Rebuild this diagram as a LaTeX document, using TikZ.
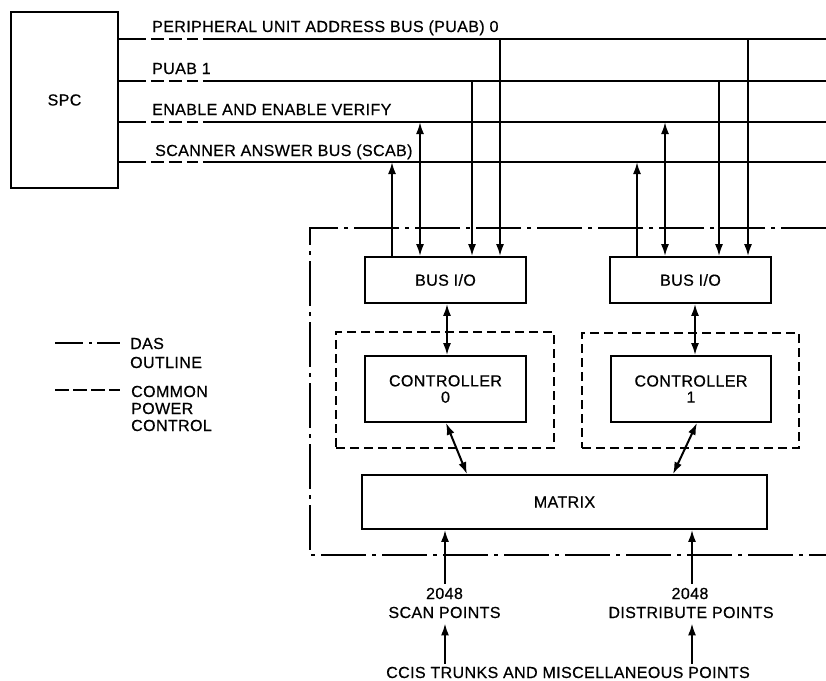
\documentclass[tikz,border=0pt]{standalone}
\usepackage{fontspec}
\setmainfont[FakeBold=0.6,LetterSpace=2.5]{Liberation Sans}
\usetikzlibrary{arrows.meta,calc}
\begin{document}
\begin{tikzpicture}[x=1pt,y=-1pt,
  every node/.style={font=\fontsize{16}{19}\selectfont},
  box/.style={draw, line width=1.7pt, inner sep=0pt, align=center},
  pbox/.style={draw, line width=1.3pt, dash pattern=on 9pt off 5pt, inner sep=0pt},
  bus/.style={line width=2pt},
  conn/.style={line width=2pt, -{Latex[length=12pt,width=8pt]}},
  dconn/.style={line width=2pt, {Latex[length=12pt,width=8pt]}-{Latex[length=12pt,width=8pt]}},
  lbl/.style={anchor=base west, inner sep=0pt},
  ctr/.style={anchor=base, inner sep=0pt},
  dasline/.style={line width=1.3pt, dash pattern=on 45pt off 6pt on 4pt off 6pt},
]
\useasboundingbox (0,0) rectangle (826,680);

% SPC
\node[box, minimum width=107pt, minimum height=176pt] (spc) at (64.5,100) {SPC};

% buses
\foreach \n/\y in {0/39,1/81,2/122,3/162} {
  \coordinate (e\n) at (826,\y);
  \draw[bus] (spc.east |- e\n) -- ++(27,0);
  \draw[bus, dash pattern=on 13pt off 5pt] ($(spc.east |- e\n)+(32,0)$) -- ++(47,0);
  \draw[bus] ($(spc.east |- e\n)+(84,0)$) -- (e\n);
}
\node[lbl] (l0) at (152,32) {PERIPHERAL UNIT ADDRESS BUS (PUAB) 0};
\node[lbl] (l1) at (152,74) {PUAB 1};
\node[lbl] (l2) at (152,115) {ENABLE AND ENABLE VERIFY};
\node[lbl] (l3) at (155,156) {SCANNER ANSWER BUS (SCAB)};

% DAS outline
\coordinate (o1) at (826,228);
\coordinate (o2) at (310,228);
\coordinate (o3) at (310,555);
\coordinate (o4) at (826,555);
\draw[dasline] (o1) -- (o2) -- (o3) -- (o4);

% common power control boxes
\node[pbox, minimum width=218pt, minimum height=116pt] (cpL) at (445,390) {};
\node[pbox, minimum width=217pt, minimum height=115pt] (cpR) at (690.5,390.5) {};

% blocks
\node[box, minimum width=161pt, minimum height=46pt] (bioL) at (445.5,280) {BUS I/O};
\node[box, minimum width=161pt, minimum height=46pt] (bioR) at (690.5,280) {BUS I/O};
\node[box, minimum width=161pt, minimum height=66pt] (ctlL) at (445.5,389) {\raisebox{-3pt}{\shortstack{CONTROLLER\\[2pt]0}}};
\node[box, minimum width=160pt, minimum height=66pt] (ctlR) at (691,389) {\raisebox{-3pt}{\shortstack{CONTROLLER\\[2pt]1}}};
\node[box, minimum width=405pt, minimum height=54pt] (matrix) at (564.5,502) {MATRIX};

% bus taps
\coordinate (t1) at (392,162);
\coordinate (t2) at (420,122);
\coordinate (t3) at (472,81);
\coordinate (t4) at (500,39);
\coordinate (t5) at (637,162);
\coordinate (t6) at (665,122);
\coordinate (t7) at (719,81);
\coordinate (t8) at (748,39);
\draw[conn] (bioL.north -| t1) -- (t1);
\draw[dconn] (bioL.north -| t2) -- (t2);
\draw[conn] (t3) -- (bioL.north -| t3);
\draw[conn] (t4) -- (bioL.north -| t4);
\draw[conn] (bioR.north -| t5) -- (t5);
\draw[dconn] (bioR.north -| t6) -- (t6);
\draw[conn] (t7) -- (bioR.north -| t7);
\draw[conn] (t8) -- (bioR.north -| t8);

% bus i/o <-> controller
\draw[dconn] ([xshift=1.5pt]bioL.south) -- ([xshift=1.5pt]bioL.south |- ctlL.north);
\draw[dconn] ([xshift=4.5pt]bioR.south) -- ([xshift=4.5pt]bioR.south |- ctlR.north);

% controller <-> matrix
\draw[dconn] ([xshift=0.5pt]ctlL.south) -- ([xshift=-97.5pt]matrix.north);
\draw[dconn] ([xshift=6pt]ctlR.south) -- ([xshift=108.5pt]matrix.north);

% legend
\coordinate (lg1a) at (55,343);
\coordinate (lg1b) at (120,343);
\coordinate (lg2a) at (55,390);
\coordinate (lg2b) at (120,390);
\draw[line width=1.3pt, dash pattern=on 28pt off 6pt on 3pt off 5pt] (lg1a) -- (lg1b);
\draw[line width=1.3pt, dash pattern=on 13.5pt off 4.5pt] (lg2a) -- (lg2b);
\node[lbl] (das1) at (130,349) {DAS};
\node[lbl] (das2) at (130,368) {OUTLINE};
\node[lbl] (cpc1) at (131,397) {COMMON};
\node[lbl] (cpc2) at (131,414) {POWER};
\node[lbl] (cpc3) at (131,431) {CONTROL};

% bottom
\node[ctr] (nA) at (444.5,599) {2048};
\node[ctr] (scan) at (444.5,618) {SCAN POINTS};
\node[ctr] (nB) at (690,599) {2048};
\node[ctr] (dist) at (691,618) {DISTRIBUTE POINTS};
\node[ctr] (ccis) at (568,678) {CCIS TRUNKS AND MISCELLANEOUS POINTS};
\coordinate (xa) at (445,0);
\coordinate (xb) at (692,0);
\draw[conn] ([yshift=4pt]nA.north -| xa) -- (matrix.south -| xa);
\draw[conn] ([yshift=3pt]ccis.north -| xa) -- ([yshift=-5pt]scan.south -| xa);
\draw[conn] ([yshift=4pt]nB.north -| xb) -- (matrix.south -| xb);
\draw[conn] ([yshift=3pt]ccis.north -| xb) -- ([yshift=-5pt]dist.south -| xb);
\end{tikzpicture}
\end{document}
